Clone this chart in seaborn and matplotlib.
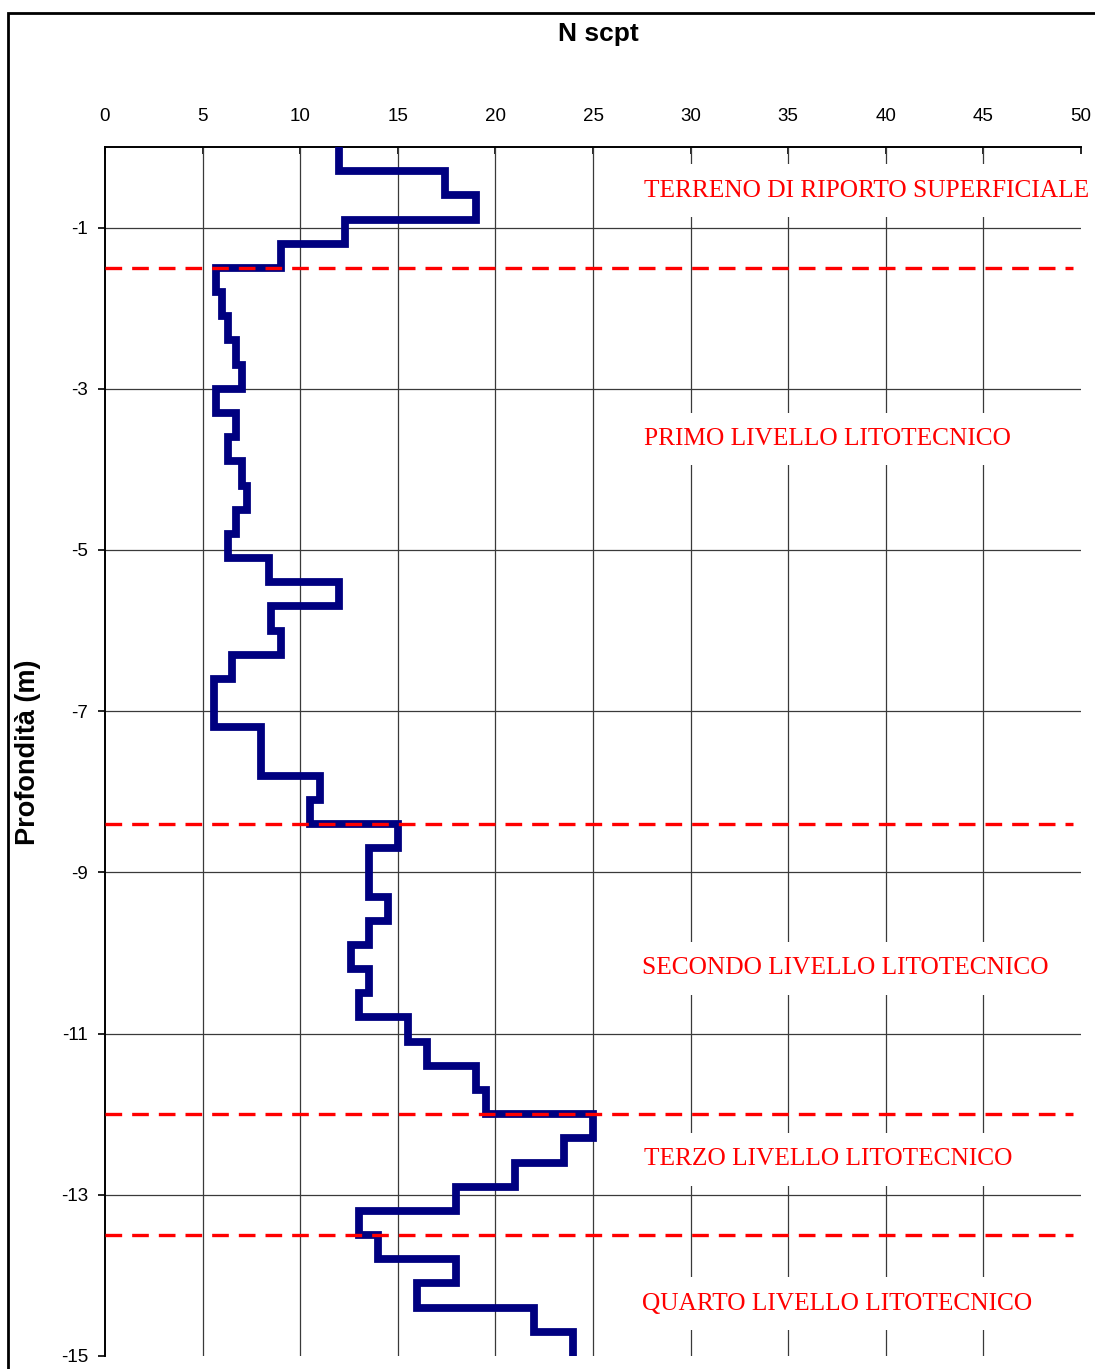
import numpy as np
import pandas as pd
import matplotlib
matplotlib.use("Agg")
import matplotlib.pyplot as plt
from matplotlib.patches import Rectangle
import seaborn as sns

# SCPT profile: blow count per 0.3 m interval
depth_bounds = [0.0, 0.3, 0.6, 0.9, 1.2, 1.5, 1.8, 2.1, 2.4, 2.7, 3.0,
                3.3, 3.6, 3.9, 4.2, 4.5, 4.8, 5.1, 5.4, 5.7, 6.0,
                6.3, 6.6, 6.9, 7.2, 7.5, 7.8, 8.1, 8.4, 8.7, 9.0,
                9.3, 9.6, 9.9, 10.2, 10.5, 10.8, 11.1, 11.4, 11.7, 12.0,
                12.3, 12.6, 12.9, 13.2, 13.5, 13.8, 14.1, 14.4, 14.7, 15.0]
n_scpt = [12.0, 17.4, 19.0, 12.3, 9.0, 5.7, 6.0, 6.3, 6.7, 7.0,
          5.7, 6.7, 6.3, 7.0, 7.3, 6.7, 6.3, 8.4, 12.0, 8.5,
          9.0, 6.5, 5.6, 5.6, 8.0, 8.0, 11.0, 10.5, 15.0, 13.5,
          13.5, 14.5, 13.5, 12.6, 13.5, 13.0, 15.5, 16.5, 19.0, 19.5,
          25.0, 23.5, 21.0, 18.0, 13.0, 14.0, 18.0, 16.0, 22.0, 24.0]

# layer boundaries (m) and layer names
layer_bounds = [1.5, 8.4, 12.0, 13.5]
layer_names = ["TERRENO DI RIPORTO SUPERFICIALE", "PRIMO LIVELLO LITOTECNICO",
               "SECONDO LIVELLO LITOTECNICO", "TERZO LIVELLO LITOTECNICO",
               "QUARTO LIVELLO LITOTECNICO"]
label_depth = [0.54, 3.62, 10.19, 12.56, 14.35]
label_x = [27.6, 27.6, 27.5, 27.6, 27.5]

x_ticks = [0, 5, 10, 15, 20, 25, 30, 35, 40, 45, 50]
y_ticks = [-1, -3, -5, -7, -9, -11, -13, -15]

sns.set_style("white")
plt.rcParams['font.family'] = ['Liberation Sans', 'DejaVu Sans']
plt.rcParams['text.color'] = 'black'
plt.rcParams['xtick.color'] = 'black'
plt.rcParams['ytick.color'] = 'black'

# build the step profile from the interval data
d = np.array(depth_bounds)
tops, bots = d[:-1], d[1:]
step_y = -np.column_stack([tops, bots]).ravel()
step_x = np.repeat(n_scpt, 2)
profile = pd.DataFrame({"N": step_x, "z": step_y})

fig = plt.figure(figsize=(10.95, 13.69), dpi=100)
ax = fig.add_axes([105 / 1095, 1 - 1356 / 1369, 976 / 1095, 1209 / 1369])

# grid
for xv in x_ticks[1:-1]:
    ax.axvline(xv, color="#3a3a3a", lw=0.9, zorder=1)
for yv in y_ticks[:-1]:
    ax.axhline(yv, color="#3a3a3a", lw=0.9, zorder=1)

sns.lineplot(data=profile, x="N", y="z", sort=False, estimator=None,
             color="#000080", lw=5.6, ax=ax, zorder=5)
for line in ax.lines[-1:]:
    line.set_solid_joinstyle("miter")
    line.set_solid_capstyle("butt")

# layer boundaries
for lb in layer_bounds:
    ax.plot([0, 49.6], [-lb, -lb], color="#ff0000", lw=2.4,
            dashes=(5.0, 3.0), zorder=6)

for name, ld, lx in zip(layer_names, label_depth, label_x):
    ax.text(lx, -ld, name, color="#ff0000", fontsize=18.3,
            family=["Liberation Serif", "DejaVu Serif"], va="center", ha="left",
            bbox=dict(facecolor="white", edgecolor="none", pad=11), zorder=3)

ax.set_xlim(0, 50)
ax.set_ylim(-15, 0)
ax.set_xticks(x_ticks)
ax.set_yticks(y_ticks)
ax.set_yticklabels([str(v) for v in y_ticks])
ax.xaxis.tick_top()
ax.tick_params(axis="x", direction="in", length=5, width=1.2, pad=16,
               labelsize=13.5, top=True, bottom=False)
ax.tick_params(axis="y", direction="out", length=5, width=1.2, pad=7,
               labelsize=13.5, left=True)
ax.set_xlabel("")
ax.set_ylabel("")
for side in ["right", "bottom"]:
    ax.spines[side].set_visible(False)
for side in ["left", "top"]:
    ax.spines[side].set_linewidth(1.4)
    ax.spines[side].set_color("black")

fig.text(598 / 1095, 1 - 34 / 1369, "N scpt", fontsize=19, fontweight="bold",
         ha="center", va="center")
fig.text(28 / 1095, 1 - 752 / 1369, "Profondità (m)", fontsize=19.5,
         fontweight="bold", rotation=90, ha="center", va="center")

# outer frame
fig.patches.append(Rectangle((8 / 1095, -0.1), 1.2, 1 - 13 / 1369 + 0.1,
                             transform=fig.transFigure, fill=False,
                             edgecolor="black", lw=2, zorder=10))

fig.savefig("out.png", dpi=100)
